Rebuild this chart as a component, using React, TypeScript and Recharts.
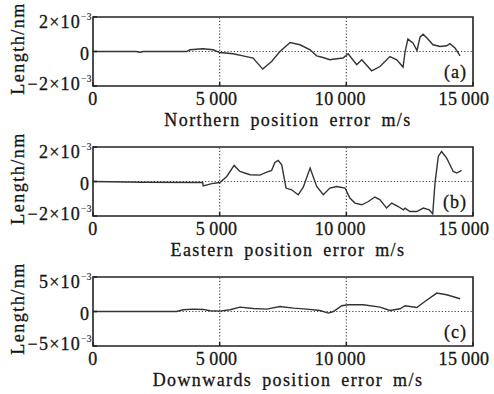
import { LineChart, Line, XAxis, YAxis, ReferenceLine, ReferenceArea } from 'recharts'

const FONT = '"Liberation Serif", "Times New Roman", serif'
const INK = '#151515'

// x axis (time) ticks and their printed labels
const xTicks = [0, 5000, 10000, 15000]
const xTickLabels = ['0', '5\u2009000', '10\u2009000', '15\u2009000']

// values are in units of 10^-3
const northT = [0, 1700, 1850, 2000, 3700, 3830, 4340, 4740, 5010, 5530, 5920, 6320, 6700, 7050, 7380, 7780, 8170, 8570, 8830, 9080, 9350, 9470, 9870, 10070, 10410, 10610, 11000, 11330, 11720, 11990, 12240, 12320, 12430, 12630, 12790, 12910, 13030, 13220, 13420, 13700, 13960, 14090, 14290, 14490]
const northErr = [0, 0, -0.04, 0, 0, 0.1, 0.16, 0.1, -0.06, -0.13, -0.25, -0.38, -1.02, -0.58, 0, 0.52, 0.39, 0.1, -0.25, -0.35, -0.48, -0.45, -0.38, -0.13, -0.77, -0.48, -1.12, -0.87, -0.29, -0.48, -0.9, 0, 0.72, 0.5, 0.06, 0.83, 1.0, 0.72, 0.39, 0.29, 0.33, 0.45, 0.2, -0.25]

const eastT = [0, 1970, 4330, 4350, 4690, 5010, 5280, 5570, 5800, 6200, 6590, 6860, 7050, 7180, 7310, 7450, 7620, 7840, 8100, 8300, 8570, 8830, 9090, 9350, 9620, 9950, 10140, 10340, 10610, 10870, 11130, 11330, 11590, 11790, 12050, 12250, 12320, 12510, 12780, 13040, 13270, 13410, 13500, 13630, 13760, 13960, 14220, 14360, 14550]
const eastErr = [0, -0.04, -0.06, -0.25, -0.12, -0.06, 0.29, 0.93, 0.58, 0.39, 0.37, 0.54, 0.64, 1.1, 1.22, 0.97, -0.38, -0.48, -0.77, -0.33, 0.78, -0.29, -0.77, -0.38, -0.29, -0.38, -0.96, -1.25, -1.35, -1.16, -0.9, -1.06, -1.54, -1.25, -1.45, -1.64, -1.54, -1.74, -1.74, -1.54, -1.64, -1.87, -0.09, 1.45, 1.74, 1.36, 0.58, 0.49, 0.64]

const downT = [0, 3300, 3560, 3960, 4350, 4620, 5010, 5410, 5800, 6330, 6860, 7380, 7910, 8440, 8960, 9290, 9490, 9820, 10080, 10670, 11330, 11720, 12120, 12320, 12780, 13100, 13570, 13960, 14490]
const downErr = [0, 0, 0.25, 0.35, 0.3, 0.1, 0.05, 0.25, 0.63, 0.44, 0.35, 0.73, 0.49, 0.35, 0.15, -0.23, 0, 0.83, 0.97, 0.97, 0.63, 0.15, 0.39, 0.83, 0.58, 1.45, 2.67, 2.43, 1.85]

const yLimits = [2, 2, 5]
const panelTags = ['(a)', '(b)', '(c)']
const axisTitles = ['Northern position error m/s', 'Eastern position error m/s', 'Downwards position error m/s']

const textProps = { fill: INK, stroke: INK, strokeWidth: 0.3, fontFamily: FONT }

function XTick({ x, y, payload }: any) {
  const i = xTicks.indexOf(payload.value)
  const shift = -payload.value * 0.0006
  return (
    <g>
      <line x1={x} x2={x} y1={y} y2={y - 4} stroke="#222" strokeWidth={1.5} />
      <text x={x + shift} y={y + 19} textAnchor="middle" fontSize={18} letterSpacing={0.4} {...textProps}>
        {xTickLabels[i]}
      </text>
    </g>
  )
}

function YTick({ x, y, payload }: any) {
  const v = payload.value
  const dy = v > 0 ? 11 : v < 0 ? 4 : 8
  return (
    <g>
      <line x1={x} x2={x + 4} y1={y} y2={y} stroke="#222" strokeWidth={1.5} />
      {v === 0 ? (
        <text x={x - 4} y={y + dy} textAnchor="end" fontSize={18} {...textProps}>0</text>
      ) : (
        <text x={x - 1} y={y + dy} textAnchor="end" fontSize={18} letterSpacing={1.2} {...textProps}>
          <tspan>{(v < 0 ? '\u2212' : '') + Math.abs(v) + '×10'}</tspan>
          <tspan dy={-8} fontSize={9.5} letterSpacing={0.5} strokeWidth={0.15}>{'\u22123'}</tspan>
        </text>
      )}
    </g>
  )
}

function XTitle({ viewBox, text }: any) {
  const vb = viewBox || { x: 93, y: 86, width: 380 }
  return (
    <text x={vb.x + vb.width / 2 + 5} y={vb.y + 39.5} textAnchor="middle" fontSize={18} letterSpacing={1.4} style={{ wordSpacing: 4 }} {...textProps}>
      {text}
    </text>
  )
}

function YTitle({ viewBox }: any) {
  const vb = viewBox || { y: 17, height: 69 }
  const cx = 24
  const cy = vb.y + vb.height / 2 - 3
  return (
    <text x={cx} y={cy} transform={`rotate(-90, ${cx}, ${cy})`} textAnchor="middle" fontSize={18} letterSpacing={1.5} {...textProps}>
      Length/nm
    </text>
  )
}

function TagLabel({ viewBox, text }: any) {
  const vb = viewBox || { x: 93, y: 17, width: 380, height: 69 }
  return (
    <text x={vb.x + vb.width - 6} y={vb.y + vb.height - 8} textAnchor="end" fontSize={18} letterSpacing={1} {...textProps}>
      {text}
    </text>
  )
}

function Panel({ t, v, limit, tag, title }: { t: number[]; v: number[]; limit: number; tag: string; title: string }) {
  const data = t.map((x, i) => ({ t: x, v: v[i] }))
  return (
    <LineChart width={494} height={130} data={data} margin={{ top: 17, right: 21, bottom: 0, left: 0 }}>
      <XAxis
        dataKey="t"
        type="number"
        domain={[0, 15000]}
        ticks={xTicks}
        interval={0}
        height={44}
        tickSize={0}
        tickMargin={0}
        axisLine={false}
        tickLine={false}
        tick={<XTick />}
        label={<XTitle text={title} />}
      />
      <YAxis
        type="number"
        domain={[-limit, limit]}
        ticks={[-limit, 0, limit]}
        interval={0}
        width={93}
        tickSize={0}
        tickMargin={0}
        axisLine={false}
        tickLine={false}
        allowDataOverflow
        tick={<YTick />}
        label={<YTitle />}
      />
      <ReferenceLine x={5000} stroke="#444" strokeWidth={1.2} strokeDasharray="1.2 2" />
      <ReferenceLine x={10000} stroke="#444" strokeWidth={1.2} strokeDasharray="1.2 2" />
      <ReferenceLine y={0} stroke="#444" strokeWidth={1.2} strokeDasharray="1.2 2" />
      <Line dataKey="v" type="linear" stroke="#333" strokeWidth={1.4} dot={false} isAnimationActive={false} />
      <ReferenceArea
        x1={0}
        x2={15000}
        y1={-limit}
        y2={limit}
        fill="none"
        stroke="#222"
        strokeWidth={1.6}
        label={<TagLabel text={tag} />}
      />
    </LineChart>
  )
}

export default function App() {
  return (
    <div style={{ position: 'absolute', left: 0, top: 0, width: 494, height: 394, background: '#fff', fontFamily: FONT }}>
      <Panel t={northT} v={northErr} limit={yLimits[0]} tag={panelTags[0]} title={axisTitles[0]} />
      <Panel t={eastT} v={eastErr} limit={yLimits[1]} tag={panelTags[1]} title={axisTitles[1]} />
      <Panel t={downT} v={downErr} limit={yLimits[2]} tag={panelTags[2]} title={axisTitles[2]} />
    </div>
  )
}
